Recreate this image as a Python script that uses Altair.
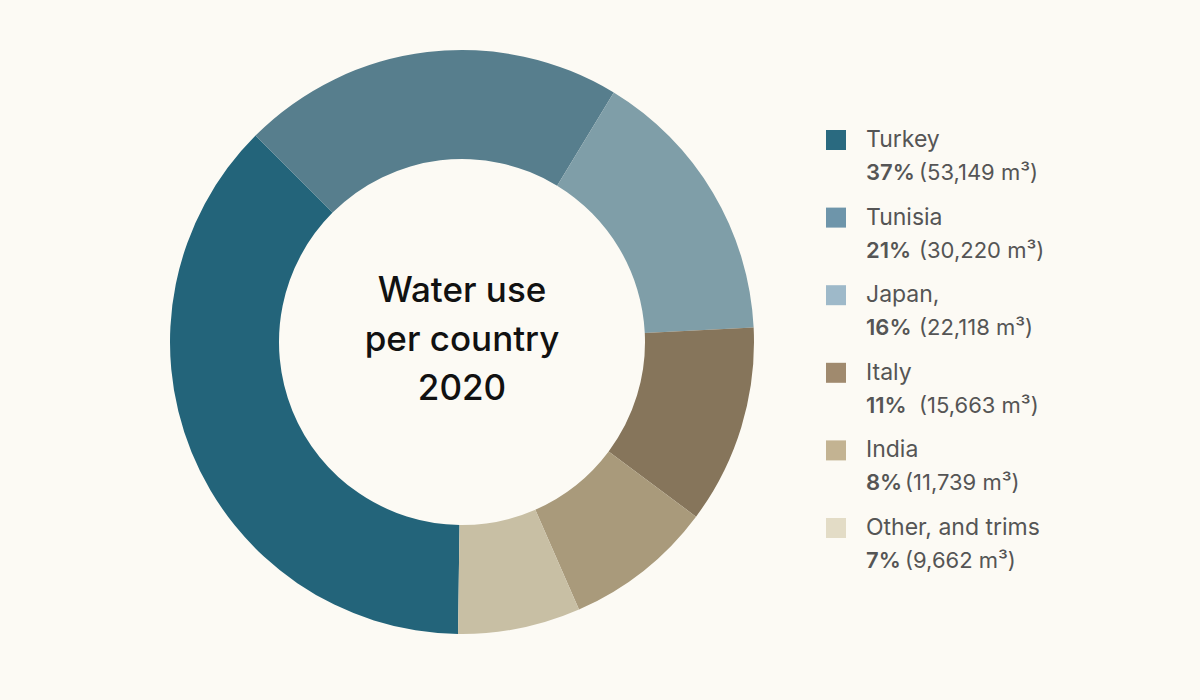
import math
import altair as alt
import pandas as pd

# ---- data ----
countries = ["Turkey", "Tunisia", "Japan,", "Italy", "India", "Other, and trims"]
values = [53149, 30220, 22118, 15663, 11739, 9662]
percents = ["37%", "21%", "16%", "11%", "8%", "7%"]
details = ["(53,149 m³)", "(30,220 m³)", "(22,118 m³)", "(15,663 m³)", "(11,739 m³)", "(9,662 m³)"]
# drawing order of the ring, clockwise from the upper-left
ring_order = [5, 0, 1, 2, 3, 4]

slice_colors = ["#23647a", "#577e8d", "#7f9ea8", "#86755b", "#a99a7b", "#c8bfa4"]
legend_colors = ["#2a6a80", "#6e95aa", "#9eb9c9", "#a08a6e", "#c3b392", "#e3dcc6"]

BG = "#fcfaf4"
FONT = "Inter"

df = pd.DataFrame({
    "country": countries,
    "value": values,
    "pct": percents,
    "detail": details,
    "ord": ring_order,
    "row": list(range(len(countries))),
})

cx, cy = 462, 342

ring = alt.Chart(df).mark_arc(outerRadius=292, innerRadius=183, stroke=None).encode(
    theta=alt.Theta("value:Q", stack=True,
                    scale=alt.Scale(range=[-math.pi / 4, 2 * math.pi - math.pi / 4])),
    color=alt.Color("country:N", scale=alt.Scale(domain=countries, range=slice_colors), legend=None),
    order=alt.Order("ord:Q"),
    x=alt.value(cx),
    y=alt.value(cy),
)

center_title = alt.Chart(pd.DataFrame({"t": ["Water use\nper country\n2020"]})).mark_text(
    font=FONT, fontSize=35, fontWeight=500, color="#111111", lineBreak="\n", lineHeight=49,
    align="center", baseline="middle",
).encode(text="t:N", x=alt.value(cx), y=alt.value(291))

yscale = alt.Scale(domain=[0, 5], range=[140, 528])

squares = alt.Chart(df).mark_square(size=400, opacity=1).encode(
    x=alt.value(836),
    y=alt.Y("row:Q", scale=yscale, axis=None),
    fill=alt.Fill("country:N", scale=alt.Scale(domain=countries, range=legend_colors), legend=None),
)

names = alt.Chart(df).mark_text(
    font=FONT, fontSize=23, color="#555555", align="left", baseline="middle",
).encode(
    x=alt.value(866),
    y=alt.Y("row:Q", scale=yscale, axis=None),
    text="country:N",
)

pcts = alt.Chart(df).mark_text(
    font=FONT, fontSize=22, fontWeight=600, color="#555555", align="left", baseline="middle", dy=33,
).encode(
    x=alt.value(866),
    y=alt.Y("row:Q", scale=yscale, axis=None),
    text="pct:N",
)

dets = alt.Chart(df).transform_calculate(
    detx="866 + 14 * length(datum.pct) + 11"
).mark_text(
    font=FONT, fontSize=22, color="#555555", align="left", baseline="middle", dy=33,
).encode(
    x=alt.X("detx:Q", scale=None, axis=None),
    y=alt.Y("row:Q", scale=yscale, axis=None),
    text="detail:N",
)

chart = alt.layer(ring, center_title, squares, names, pcts, dets).resolve_scale(
    color="independent", fill="independent"
).properties(
    width=1200, height=700, background=BG, padding=0,
    autosize=alt.AutoSizeParams(type="none"),
).configure_view(stroke=None)

chart.save("out.html", embed_options={"renderer": "svg", "actions": False})
